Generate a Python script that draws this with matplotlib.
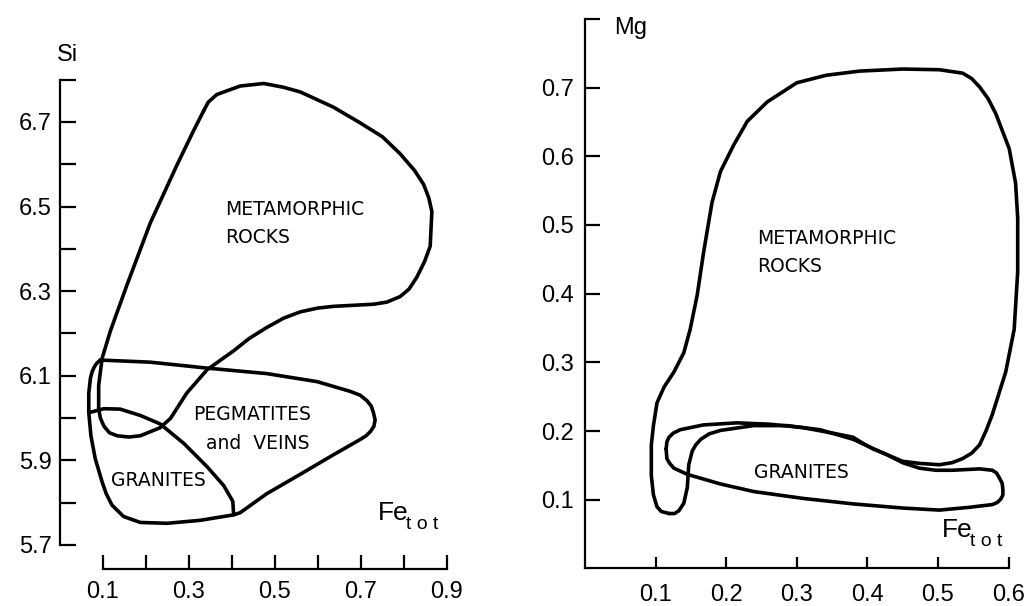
import matplotlib
matplotlib.use("Agg")
import matplotlib.pyplot as plt
import numpy as np

plt.rcParams['font.family'] = ['Liberation Sans', 'DejaVu Sans']

# left panel: Si vs Fe_tot
left_meta_x = [0.334, 0.345, 0.365, 0.419, 0.474, 0.520, 0.559, 0.636, 0.698, 0.750, 0.791, 0.825,
               0.846, 0.858, 0.865, 0.861, 0.848, 0.830, 0.812, 0.791, 0.760, 0.729, 0.636, 0.600,
               0.559, 0.520, 0.481, 0.440, 0.404, 0.342, 0.295, 0.257, 0.233, 0.187, 0.160, 0.133,
               0.115, 0.102, 0.094, 0.090, 0.090, 0.098, 0.117, 0.156, 0.210, 0.272, 0.311]
left_meta_y = [6.726, 6.747, 6.765, 6.785, 6.791, 6.782, 6.771, 6.735, 6.698, 6.665, 6.625, 6.585,
               6.552, 6.520, 6.488, 6.406, 6.370, 6.333, 6.305, 6.287, 6.274, 6.269, 6.264, 6.260,
               6.251, 6.236, 6.214, 6.188, 6.159, 6.114, 6.059, 5.999, 5.977, 5.958, 5.955, 5.958,
               5.965, 5.981, 6.000, 6.022, 6.077, 6.141, 6.205, 6.315, 6.461, 6.598, 6.680]

peg_x = [0.094, 0.210, 0.342, 0.481, 0.598, 0.675, 0.698, 0.714, 0.724, 0.729, 0.733, 0.730,
         0.722, 0.712, 0.698, 0.636, 0.559, 0.481, 0.419, 0.404, 0.326, 0.249, 0.187, 0.148,
         0.135, 0.121, 0.108, 0.098, 0.082, 0.072, 0.067, 0.067, 0.071, 0.075, 0.080, 0.086]
peg_y = [6.137, 6.132, 6.118, 6.105, 6.086, 6.063, 6.054, 6.041, 6.028, 6.013, 5.995, 5.980,
         5.968, 5.958, 5.949, 5.913, 5.867, 5.821, 5.776, 5.771, 5.758, 5.751, 5.753, 5.767,
         5.780, 5.794, 5.820, 5.849, 5.904, 5.958, 6.013, 6.059, 6.095, 6.110, 6.121, 6.130]

left_gran_x = [0.069, 0.102, 0.140, 0.187, 0.233, 0.288, 0.342, 0.381, 0.402, 0.404]
left_gran_y = [6.013, 6.022, 6.021, 6.006, 5.986, 5.940, 5.885, 5.840, 5.803, 5.771]

left_xticks = [0.1, 0.2, 0.3, 0.4, 0.5, 0.6, 0.7, 0.8, 0.9]
left_xlabels = ['0.1', '', '0.3', '', '0.5', '', '0.7', '', '0.9']
left_yticks = [5.7, 5.8, 5.9, 6.0, 6.1, 6.2, 6.3, 6.4, 6.5, 6.6, 6.7, 6.8]
left_ylabels = ['5.7', '', '5.9', '', '6.1', '', '6.3', '', '6.5', '', '6.7', '']

# right panel: Mg vs Fe_tot
right_meta_x = [0.119, 0.108, 0.102, 0.097, 0.094, 0.094, 0.097, 0.102, 0.112, 0.126, 0.140, 0.149,
                0.159, 0.168, 0.180, 0.192, 0.211, 0.230, 0.258, 0.300, 0.342, 0.389, 0.450, 0.502,
                0.535, 0.548, 0.559, 0.571, 0.582, 0.601, 0.610, 0.613, 0.613, 0.608, 0.596, 0.577,
                0.568, 0.559, 0.548, 0.535, 0.520, 0.502, 0.474, 0.450, 0.427, 0.403, 0.380, 0.333,
                0.286, 0.239, 0.192, 0.176, 0.164, 0.157, 0.152, 0.147, 0.145, 0.140, 0.133, 0.127]
right_meta_y = [0.080, 0.083, 0.090, 0.107, 0.135, 0.180, 0.208, 0.241, 0.264, 0.286, 0.314, 0.348,
                0.398, 0.460, 0.533, 0.578, 0.617, 0.651, 0.679, 0.707, 0.718, 0.724, 0.727, 0.726,
                0.721, 0.713, 0.701, 0.684, 0.662, 0.611, 0.561, 0.510, 0.432, 0.348, 0.286, 0.224,
                0.200, 0.180, 0.168, 0.160, 0.154, 0.151, 0.153, 0.156, 0.166, 0.177, 0.188, 0.202,
                0.208, 0.208, 0.201, 0.196, 0.188, 0.180, 0.171, 0.151, 0.118, 0.095, 0.084, 0.080]

right_gran_x = [0.115, 0.116, 0.119, 0.125, 0.135, 0.168, 0.215, 0.262, 0.309, 0.356, 0.380, 0.394,
                0.408, 0.427, 0.450, 0.474, 0.497, 0.521, 0.559, 0.577, 0.583, 0.587, 0.591, 0.592,
                0.592, 0.589, 0.584, 0.577, 0.544, 0.502, 0.450, 0.380, 0.309, 0.239, 0.192, 0.145,
                0.126, 0.120, 0.116]
right_gran_y = [0.174, 0.184, 0.191, 0.197, 0.202, 0.209, 0.212, 0.210, 0.205, 0.196, 0.191, 0.182,
                0.174, 0.166, 0.154, 0.146, 0.143, 0.143, 0.145, 0.143, 0.139, 0.132, 0.124, 0.115,
                0.107, 0.101, 0.096, 0.093, 0.089, 0.085, 0.088, 0.094, 0.102, 0.112, 0.123, 0.137,
                0.146, 0.153, 0.160]

right_xticks = [0.1, 0.2, 0.3, 0.4, 0.5, 0.6]
right_xlabels = ['0.1', '0.2', '0.3', '0.4', '0.5', '0.6']
right_yticks = [0.1, 0.2, 0.3, 0.4, 0.5, 0.6, 0.7, 0.8]
right_ylabels = ['0.1', '0.2', '0.3', '0.4', '0.5', '0.6', '0.7', '']


def closed(xs, ys):
    return list(xs) + [xs[0]], list(ys) + [ys[0]]


def style_axes(ax, xb, yb):
    for s in ['top', 'right']:
        ax.spines[s].set_visible(False)
    ax.spines['left'].set_bounds(*yb)
    ax.spines['bottom'].set_bounds(*xb)
    ax.spines['left'].set_linewidth(1.6)
    ax.spines['bottom'].set_linewidth(1.6)


fig = plt.figure(figsize=(10.25, 6.06), dpi=100)
lw = 2.6
ln = dict(color='black', lw=lw, solid_joinstyle='round', solid_capstyle='round')
lab = dict(family='DejaVu Sans', fontsize=13.5)

ax1 = fig.add_axes([0.0585, 0.0611, 0.3985, 0.8423])
ax1.plot(*closed(left_meta_x, left_meta_y), **ln)
ax1.plot(*closed(peg_x, peg_y), **ln)
ax1.plot(left_gran_x, left_gran_y, **ln)
ax1.set_xlim(0, 0.95)
ax1.set_ylim(5.643, 6.85)
style_axes(ax1, (0.1, 0.9), (5.7, 6.8))
ax1.set_xticks(left_xticks)
ax1.set_xticklabels(left_xlabels)
ax1.set_yticks(left_yticks)
ax1.set_yticklabels(left_ylabels)
ax1.tick_params(axis='y', direction='in', length=11.5, width=1.6, pad=6, labelsize=17)
ax1.tick_params(axis='x', direction='in', length=10, width=1.6, pad=9, labelsize=17)
ax1.text(0.385, 6.494, 'METAMORPHIC', va='center', ha='left', **lab)
ax1.text(0.385, 6.428, 'ROCKS', va='center', ha='left', **lab)
ax1.text(0.447, 6.009, 'PEGMATITES', va='center', ha='center', **lab)
ax1.text(0.459, 5.940, 'and  VEINS', va='center', ha='center', **lab)
ax1.text(0.228, 5.853, 'GRANITES', va='center', ha='center', **lab)
ax1.text(-0.007, 6.858, 'Si', va='center', ha='left', fontsize=17)
ax1.text(0.74, 5.775, 'Fe', va='center', ha='left', fontsize=19)
ax1.annotate('t o t', (0.74, 5.775), xytext=(20, -8), textcoords='offset points',
             va='center', ha='left', fontsize=14)

ax2 = fig.add_axes([0.5707, 0.0619, 0.427, 0.9296])
ax2.plot(*closed(right_meta_x, right_meta_y), **ln)
ax2.plot(*closed(right_gran_x, right_gran_y), **ln)
ax2.set_xlim(0, 0.62)
ax2.set_ylim(0, 0.82)
style_axes(ax2, (0, 0.6), (0, 0.8))
ax2.set_xticks(right_xticks)
ax2.set_xticklabels(right_xlabels)
ax2.set_yticks(right_yticks)
ax2.set_yticklabels(right_ylabels)
ax2.tick_params(axis='y', direction='in', length=11, width=1.6, pad=8, labelsize=17)
ax2.tick_params(axis='x', direction='in', length=8, width=1.6, pad=11, labelsize=17)
ax2.text(0.244, 0.481, 'METAMORPHIC', va='center', ha='left', **lab)
ax2.text(0.244, 0.440, 'ROCKS', va='center', ha='left', **lab)
ax2.text(0.307, 0.139, 'GRANITES', va='center', ha='center', **lab)
ax2.text(0.042, 0.787, 'Mg', va='center', ha='left', fontsize=17)
ax2.text(0.506, 0.056, 'Fe', va='center', ha='left', fontsize=19)
ax2.annotate('t o t', (0.506, 0.056), xytext=(20, -8), textcoords='offset points',
             va='center', ha='left', fontsize=14)

fig.savefig('out.png', dpi=100)
